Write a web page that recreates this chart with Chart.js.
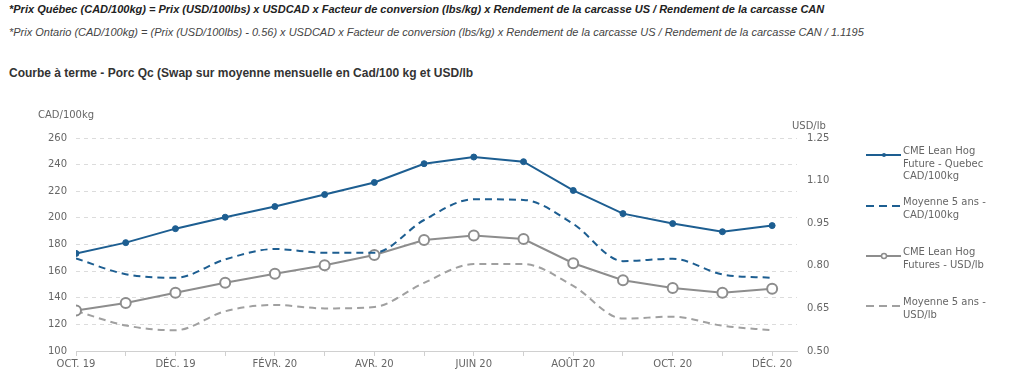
<!DOCTYPE html>
<html>
<head>
<meta charset="utf-8">
<script src="https://cdn.jsdelivr.net/npm/chart.js@4.4.1/dist/chart.umd.min.js"></script>
<style>
    body { margin: 0; background: #fff; width: 1024px; height: 385px; overflow: hidden; position: relative; font-family: "Liberation Sans", Arial, sans-serif; }
    .note { position: absolute; left: 9px; font-size: 11px; color: #222; font-style: italic; white-space: nowrap; }
    #n1 { top: 3px; font-weight: bold; }
    #n2 { top: 26px; color: #444; }
    #title { position: absolute; left: 9px; top: 66px; font-size: 12px; font-weight: bold; color: #333; white-space: nowrap; }
    #wrap { position: absolute; left: 0; top: 100px; width: 1024px; height: 285px; }
    #legend { position: absolute; left: 866px; top: 0; font-family: "DejaVu Sans", sans-serif; font-size: 10px; color: #666; }
    .item { position: absolute; left: 0; width: 160px; line-height: 12.5px; }
    .item svg { position: absolute; left: 0; top: 0; }
    .item span { position: absolute; left: 37px; top: -6px; white-space: nowrap; }
</style>
</head>
<body>
<div class="note" id="n1">*Prix Québec (CAD/100kg) = Prix (USD/100lbs) x USDCAD x Facteur de conversion (lbs/kg) x Rendement de la carcasse US / Rendement de la carcasse CAN</div>
<div class="note" id="n2">*Prix Ontario (CAD/100kg) = (Prix (USD/100lbs) - 0.56) x USDCAD x Facteur de conversion (lbs/kg) x Rendement de la carcasse US / Rendement de la carcasse CAN / 1.1195</div>
<div id="title">Courbe à terme - Porc Qc (Swap sur moyenne mensuelle en Cad/100 kg et USD/lb</div>
<div id="wrap"><canvas id="myChart"></canvas></div>
<div id="legend"></div>
<script>
// months on the x axis
const months = ['OCT. 19', 'NOV. 19', 'DÉC. 19', 'JANV. 20', 'FÉVR. 20', 'MARS 20', 'AVR. 20', 'MAI 20',
    'JUIN 20', 'JUIL. 20', 'AOÛT 20', 'SEPT. 20', 'OCT. 20', 'NOV. 20', 'DÉC. 20'];

// CAD/100kg (left axis)
const quebecCad = [173.3, 181.4, 191.9, 200.5, 208.5, 217.5, 226.6, 240.7, 245.7, 242.2, 220.6, 203.2, 195.7, 189.6, 194.2];
const avg5Cad = [169.5, 157.7, 155.0, 168.8, 176.6, 173.8, 173.8, 198.4, 214.0, 213.5, 195.5, 167.5, 169.3, 157.5, 155.0];

// USD/lb (right axis)
const cmeUsd = [0.643, 0.669, 0.705, 0.740, 0.772, 0.802, 0.838, 0.891, 0.907, 0.894, 0.809, 0.749, 0.722, 0.705, 0.719];
const avg5Usd = [0.641, 0.590, 0.573, 0.640, 0.662, 0.650, 0.655, 0.740, 0.806, 0.806, 0.729, 0.614, 0.621, 0.589, 0.573];

const leftTicks = [100, 120, 140, 160, 180, 200, 220, 240, 260];
const rightTicks = [0.50, 0.65, 0.80, 0.95, 1.10, 1.25];

const seriesNames = ['CME Lean Hog\nFuture - Quebec\nCAD/100kg', 'Moyenne 5 ans -\nCAD/100kg',
    'CME Lean Hog\nFutures - USD/lb', 'Moyenne 5 ans -\nUSD/lb'];

const blue = '#1d5e91';
const gray = '#8d8d8d';
const gray2 = '#a0a0a0';
const tickFont = { family: '"DejaVu Sans", sans-serif', size: 10 };
const textColor = '#666';

const toXY = arr => arr.map((v, i) => ({ x: i, y: v }));

// axis titles above the value axes
const axisTitles = {
    id: 'axisTitles',
    afterDraw(chart) {
        const c = chart.ctx;
        c.save();
        c.font = '10px "DejaVu Sans", sans-serif';
        c.fillStyle = textColor;
        c.textBaseline = 'middle';
        c.textAlign = 'left';
        c.fillText('CAD/100kg', 38, 15);
        c.fillText('USD/lb', 792, 26);
        c.restore();
    }
};

const ctx = document.getElementById('myChart');
new Chart(ctx, {
    type: 'line',
    data: {
        datasets: [{
            label: 'q',
            data: toXY(quebecCad),
            yAxisID: 'y',
            borderColor: blue,
            backgroundColor: blue,
            borderWidth: 2,
            pointRadius: 3,
            pointBorderWidth: 1,
            pointBackgroundColor: blue,
            pointBorderColor: blue,
            tension: 0
        }, {
            label: 'a',
            data: toXY(avg5Cad),
            yAxisID: 'y',
            borderColor: blue,
            borderWidth: 2,
            borderDash: [7, 5],
            pointRadius: 0,
            cubicInterpolationMode: 'monotone'
        }, {
            label: 'c',
            data: toXY(cmeUsd),
            yAxisID: 'y1',
            borderColor: gray,
            borderWidth: 2,
            pointRadius: 5,
            pointBorderWidth: 2,
            pointBackgroundColor: '#fff',
            pointBorderColor: gray,
            tension: 0
        }, {
            label: 'm',
            data: toXY(avg5Usd),
            yAxisID: 'y1',
            borderColor: gray2,
            borderWidth: 2,
            borderDash: [7, 5],
            pointRadius: 0,
            cubicInterpolationMode: 'monotone'
        }]
    },
    options: {
        responsive: true,
        maintainAspectRatio: false,
        animation: false,
        layout: { padding: { left: 0, right: 177, top: 38, bottom: 14 } },
        scales: {
            x: {
                type: 'linear',
                min: 0,
                max: 14.5,
                afterBuildTicks: scale => { scale.ticks = months.map((_, i) => ({ value: i })); },
                afterFit: scale => { scale.height = 20; },
                grid: { drawOnChartArea: false, drawTicks: true, tickLength: 5, color: '#d0d0d0' },
                border: { display: true, color: '#d0d0d0' },
                ticks: {
                    autoSkip: false,
                    maxRotation: 0,
                    padding: 2,
                    color: textColor,
                    font: tickFont,
                    callback: v => (v % 2 === 0 ? months[v] : '')
                }
            },
            y: {
                position: 'left',
                min: 100,
                max: 260,
                afterBuildTicks: scale => { scale.ticks = leftTicks.map(v => ({ value: v })); },
                afterFit: scale => { scale.width = 76; },
                grid: { color: '#dcdcdc', drawTicks: false },
                border: { display: false, dash: [4, 4] },
                ticks: { padding: 9, color: textColor, font: tickFont }
            },
            y1: {
                position: 'right',
                min: 0.5,
                max: 1.25,
                afterBuildTicks: scale => { scale.ticks = rightTicks.map(v => ({ value: v })); },
                afterFit: scale => { scale.width = 50; },
                grid: { drawOnChartArea: false, drawTicks: false },
                border: { display: false },
                ticks: { padding: 10, color: textColor, font: tickFont, callback: v => v.toFixed(2) }
            }
        },
        plugins: {
            legend: { display: false },
            tooltip: { enabled: false }
        }
    },
    plugins: [axisTitles]
});

// html legend next to the plot
const legendTops = [155, 206, 256, 306];
const legend = document.getElementById('legend');
seriesNames.forEach((name, i) => {
    const isBlue = i < 2;
    const col = isBlue ? blue : (i === 2 ? gray : gray2);
    const dashed = i % 2 === 1;
    let marker = '';
    if (i === 0) marker = `<circle cx="18" cy="4" r="2" fill="${col}"/>`;
    if (i === 2) marker = `<circle cx="18" cy="4" r="2.5" fill="#fff" stroke="${col}" stroke-width="1.5"/>`;
    const div = document.createElement('div');
    div.className = 'item';
    div.style.top = (legendTops[i] - 4) + 'px';
    div.innerHTML = `<svg width="36" height="8"><line x1="0" y1="4" x2="35" y2="4" stroke="${col}" stroke-width="2" ${dashed ? 'stroke-dasharray="8,5"' : ''}/>${marker}</svg>` +
        `<span>${name.split('\n').join('<br>')}</span>`;
    legend.appendChild(div);
});
</script>
</body>
</html>
